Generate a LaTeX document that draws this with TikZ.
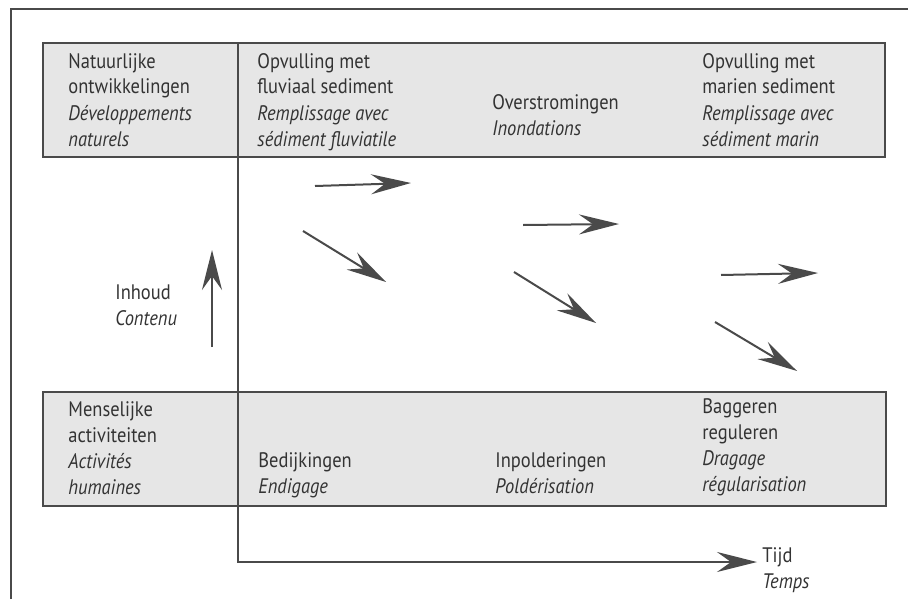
\documentclass[tikz,border=0pt]{standalone}
\usepackage{fontspec}
\setmainfont{PT Sans}[FakeStretch=0.88]
\usepackage{xcolor}
\usepackage{tikz}
\usetikzlibrary{arrows.meta,positioning,calc}

\definecolor{ink}{HTML}{333333}
\definecolor{panelfill}{HTML}{E6E6E6}
\definecolor{rule}{HTML}{4A4A4A}

\begin{document}
\begin{tikzpicture}[
    x=0.5pt, y=-0.5pt,
    every node/.style={font=\fontsize{10.5}{13}\selectfont, text=ink, inner sep=0pt, align=left, anchor=base west},
    panel/.style={draw=rule, fill=panelfill, line width=1pt},
    axis/.style={draw=rule, line width=0.9pt},
    bigtip/.style={-{Stealth[length=20pt, width=10pt, inset=7pt]}},
    trend/.style={draw=rule, line width=1pt, bigtip}
]
\useasboundingbox (0,0) rectangle (908,599);

% frame
\draw[rule, line width=0.9pt] (11,599) -- (11,9) -- (908,9);

% panels
\draw[panel] (43,43) rectangle (885,157);
\draw[panel] (43,392) rectangle (886,506);

% axes
\coordinate (ytop) at (238,43);
\coordinate (origin) at (238,562);
\coordinate (tend) at (757,562);
\draw[axis, bigtip] (ytop) -- (origin) -- (tend);
\coordinate (ibot) at (212,347);
\coordinate (itop) at (212,250);
\draw[axis, bigtip] (ibot) -- (itop);

% natural developments (base = last line)
\node (nat) at (68,146) {Natuurlijke\\ontwikkelingen\\\textit{Développements}\\\textit{naturels}};
\node (fluv) at (257,146) {Opvulling met\\fluviaal sediment\\\textit{Remplissage avec}\\\textit{sédiment fluviatile}};
\node (over) at (492,135) {Overstromingen\\\textit{Inondations}};
\node (mar) at (702,146) {Opvulling met\\marien sediment\\\textit{Remplissage avec}\\\textit{sédiment marin}};

% human activities
\node (mens) at (68,494) {Menselijke\\activiteiten\\\textit{Activités}\\\textit{humaines}};
\node (bedij) at (258,493) {Bedijkingen\\\textit{Endigage}};
\node (inpol) at (495,493) {Inpolderingen\\\textit{Poldérisation}};
\node (bagg) at (702,491) {Baggeren\\reguleren\\\textit{Dragage}\\\textit{régularisation}};

% axis labels
\node (inhoud) at (115,325) {Inhoud\\\textit{Contenu}};
\node (tijd) at (762,588) {Tijd\\\textit{Temps}};

% trends
\foreach \n/\xa/\ya/\xb/\yb in {1/315/186/411/183, 2/303/231/386/282,
                                3/523/225/619/224, 4/514/272/596/323,
                                5/721/275/818/273, 6/715/322/797/371} {
    \coordinate (s\n) at (\xa,\ya);
    \coordinate (e\n) at (\xb,\yb);
    \draw[trend] (s\n) -- (e\n);
}
\end{tikzpicture}
\end{document}
